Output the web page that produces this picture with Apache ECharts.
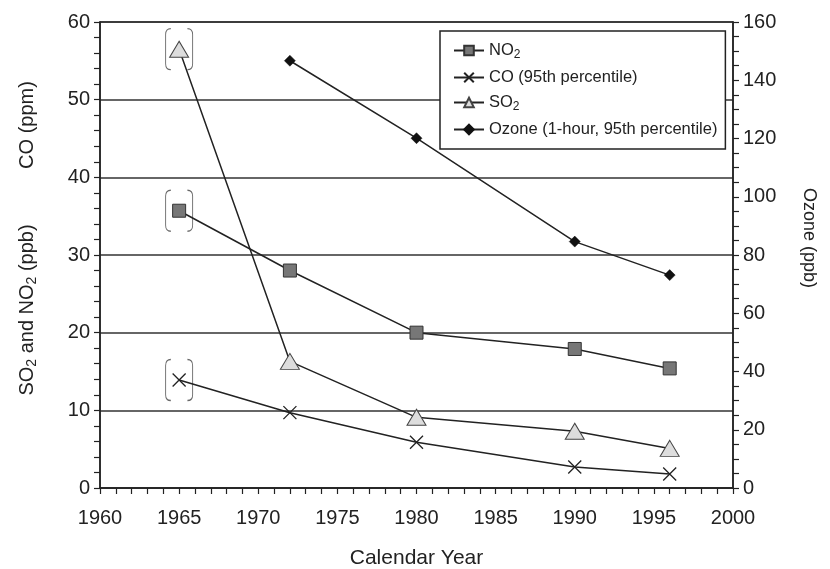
<!DOCTYPE html>
<html>
<head>
<meta charset="utf-8">
<script src="https://cdn.jsdelivr.net/npm/echarts@6/dist/echarts.min.js"></script>
<style>
  html, body { margin: 0; padding: 0; background: #fff; }
  #chart { width: 830px; height: 569px; }
</style>
</head>
<body>
<div id="chart"></div>
<script>
// Sampling years shared by all pollutants
const years = [1965, 1972, 1980, 1990, 1996];

// Left axis: NO2 and SO2 in ppb, CO in ppm
const no2 = [35.7, 28.0, 20.0, 17.9, 15.4];
const co = [13.9, 9.7, 5.9, 2.7, 1.8];
const so2 = [56.5, 16.3, 9.1, 7.3, 5.1];

// Right axis: ozone in ppb
const ozone = [null, 146.7, 120.1, 84.6, 73.1];

// Series labels
const seriesNames = ['NO2', 'CO (95th percentile)', 'SO2', 'Ozone (1-hour, 95th percentile)'];

const FONT = 'Liberation Sans, Arial, Helvetica, sans-serif';
const INK = '#222';

function pairs(vals) {
  return years.map((y, i) => [y, vals[i]]).filter(p => p[1] !== null);
}

// The 1965 readings are bracketed as less certain
const bracketPoints = [[years[0], no2[0]], [years[0], co[0]], [years[0], so2[0]]];

const bracketPath = 'path://M6,0Q1,0 1,6L1,36Q1,42 6,42M22,0Q27,0 27,6L27,36Q27,42 22,42';
const crossPath = 'path://M0,0L10,10M10,0L0,10';

const chart = echarts.init(document.getElementById('chart'));

const lineBase = {
  type: 'line',
  lineStyle: { color: INK, width: 1.5 },
  z: 3,
  animation: false
};

const subLabel = name => name.replace(/O2/, 'O{sub|2}');
const tickStyle = { color: INK, width: 1.2 };
const labelStyle = { fontFamily: FONT, fontSize: 20, color: INK };

chart.setOption({
  backgroundColor: '#fff',
  animation: false,
  grid: {
    left: 100, right: 97, top: 22, bottom: 81,
    outerBoundsMode: 'none',
    containLabel: false,
    show: true, borderColor: INK, borderWidth: 1.5, backgroundColor: 'transparent'
  },
  legend: {
    orient: 'vertical',
    left: 440, top: 31,
    data: seriesNames,
    backgroundColor: '#fff',
    borderColor: INK,
    borderWidth: 1.5,
    borderRadius: 0,
    padding: [11, 8, 11, 13],
    itemWidth: 30,
    itemHeight: 12,
    itemGap: 8,
    formatter: name => subLabel(name),
    textStyle: {
      fontFamily: FONT, fontSize: 16.5, color: INK,
      rich: { sub: { fontSize: 12, fontFamily: FONT, color: INK, padding: [9, 0, 0, 0] } }
    }
  },
  xAxis: {
    type: 'value',
    min: 1960, max: 2000, interval: 5,
    axisLine: { show: true, lineStyle: { color: INK, width: 1.5 } },
    axisTick: { show: true, length: 6, lineStyle: tickStyle },
    minorTick: { show: true, splitNumber: 5, length: 6, lineStyle: tickStyle },
    splitLine: { show: false },
    axisLabel: Object.assign({ margin: 20, formatter: v => String(v) }, labelStyle),
    name: 'Calendar Year',
    nameLocation: 'middle',
    nameGap: 60,
    nameTextStyle: { fontFamily: FONT, fontSize: 21, color: INK }
  },
  yAxis: [
    {
      type: 'value',
      min: 0, max: 60, interval: 10,
      axisLine: { show: true, lineStyle: { color: INK, width: 1.5 } },
      axisTick: { show: true, length: 6, lineStyle: tickStyle },
      minorTick: { show: true, splitNumber: 5, length: 6, lineStyle: tickStyle },
      splitLine: { show: true, lineStyle: { color: '#333', width: 1.6 } },
      axisLabel: Object.assign({ margin: 10 }, labelStyle)
    },
    {
      type: 'value',
      min: 0, max: 160, interval: 20,
      position: 'right',
      axisLine: { show: true, lineStyle: { color: INK, width: 1.5 } },
      axisTick: { show: true, length: 6, lineStyle: tickStyle },
      minorTick: { show: true, splitNumber: 4, length: 6, lineStyle: tickStyle },
      splitLine: { show: false },
      axisLabel: Object.assign({ margin: 10 }, labelStyle)
    }
  ],
  graphic: [
    {
      type: 'text',
      x: 27, y: 310,
      rotation: Math.PI / 2,
      style: {
        text: 'SO{sub|2} and NO{sub|2} (ppb)',
        fontFamily: FONT, fontSize: 20, fill: INK,
        align: 'center', verticalAlign: 'middle',
        rich: { sub: { fontSize: 14, fontFamily: FONT, fill: INK, padding: [10, 0, 0, 0] } }
      }
    },
    {
      type: 'text',
      x: 27, y: 125,
      rotation: Math.PI / 2,
      style: {
        text: 'CO (ppm)',
        fontFamily: FONT, fontSize: 20, fill: INK,
        align: 'center', verticalAlign: 'middle'
      }
    },
    {
      type: 'text',
      x: 809, y: 238,
      rotation: -Math.PI / 2,
      style: {
        text: 'Ozone (ppb)',
        fontFamily: FONT, fontSize: 18, fill: INK,
        align: 'center', verticalAlign: 'middle'
      }
    }
  ],
  series: [
    Object.assign({}, lineBase, {
      name: seriesNames[0],
      data: pairs(no2),
      symbol: 'rect', symbolSize: 13,
      itemStyle: { color: '#777', borderColor: '#333', borderWidth: 1 }
    }),
    Object.assign({}, lineBase, {
      name: seriesNames[1],
      data: pairs(co),
      symbol: crossPath, symbolSize: 13,
      itemStyle: { color: 'none', borderColor: INK, borderWidth: 1.3 }
    }),
    Object.assign({}, lineBase, {
      name: seriesNames[2],
      data: pairs(so2),
      symbol: 'triangle', symbolSize: [19, 16],
      itemStyle: { color: '#ddd', borderColor: '#444', borderWidth: 1 }
    }),
    Object.assign({}, lineBase, {
      name: seriesNames[3],
      yAxisIndex: 1,
      data: pairs(ozone),
      symbol: 'diamond', symbolSize: 11,
      itemStyle: { color: '#111', borderColor: '#111', borderWidth: 0.5 }
    }),
    {
      name: 'Uncertain 1965',
      type: 'scatter',
      data: bracketPoints,
      symbol: bracketPath,
      symbolSize: [27, 41],
      itemStyle: { color: 'none', borderColor: '#444', borderWidth: 1.1 },
      silent: true,
      z: 2,
      animation: false
    }
  ]
});
</script>
</body>
</html>
